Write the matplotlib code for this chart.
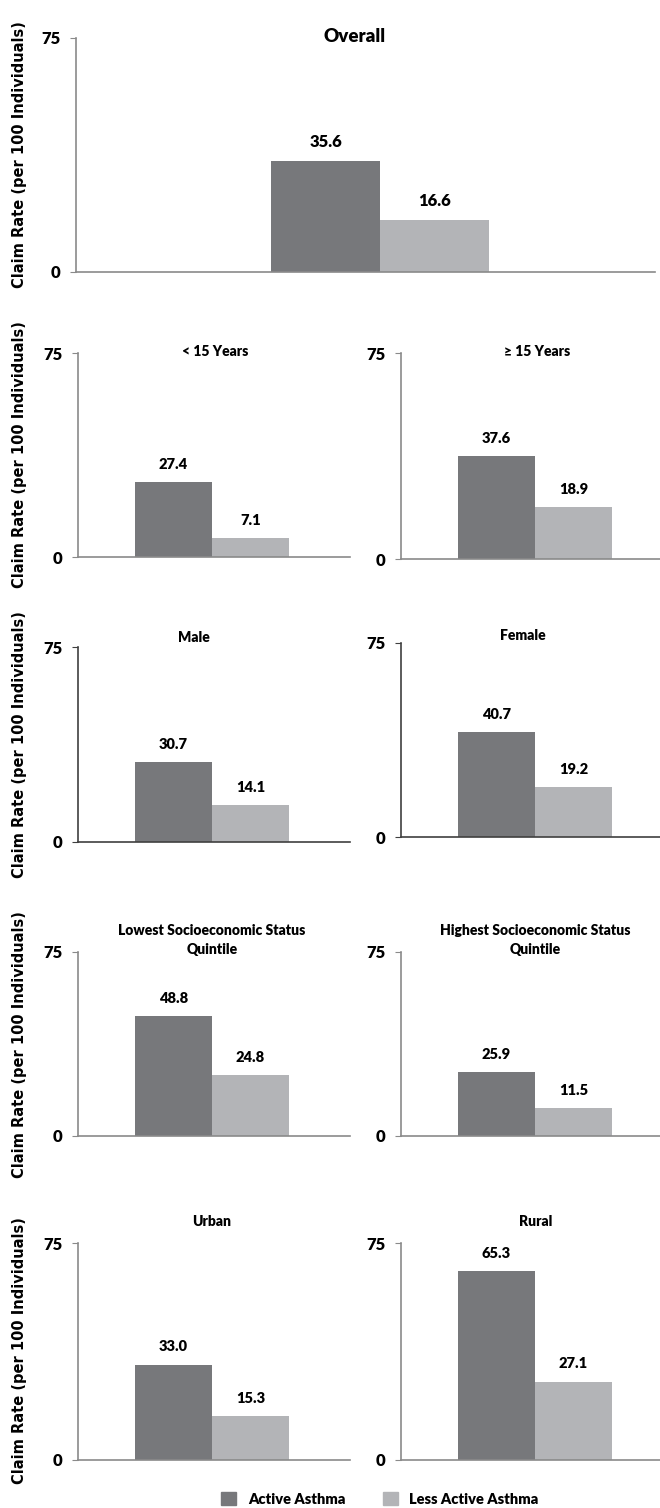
import matplotlib
matplotlib.use("Agg")
import matplotlib.pyplot as plt
from matplotlib.patches import Patch

plt.rcParams['font.family'] = ['Lato', 'DejaVu Sans']
plt.rcParams['font.weight'] = 'heavy'

# data
panel_titles = ["Overall", "< 15 Years", "\u2265 15 Years", "Male", "Female",
                "Lowest Socioeconomic Status\nQuintile",
                "Highest Socioeconomic Status\nQuintile", "Urban", "Rural"]
active = [35.6, 27.4, 37.6, 30.7, 40.7, 48.8, 25.9, 33.0, 65.3]
less_active = [16.6, 7.1, 18.9, 14.1, 19.2, 24.8, 11.5, 15.3, 27.1]
series_names = ["Active Asthma", "Less Active Asthma"]
y_ticks = [0, 75]
y_label = "Claim Rate (per 100 Individuals)"

DARK, LIGHT = "#77787b", "#b3b4b7"
W, H = 660, 1508

# layout in pixels: (left, top, right, bottom), group centre x, bar width, title x/y
boxes = [(76, 38, 655, 272),
         (78, 353, 350, 557), (401, 353, 660, 559),
         (78, 647, 350, 842), (401, 643, 660, 837),
         (78, 952, 350, 1136), (401, 952, 660, 1136),
         (78, 1243, 350, 1460), (401, 1243, 660, 1460)]
centres = [380, 212, 535, 212, 535, 212, 535, 212, 535]
widths = [109, 77, 77, 77, 77, 77, 77, 77, 77]
title_xy = [(355, 36), (215, 352), (537, 352), (194, 637), (523, 635),
            (212, 940), (535, 940), (212, 1222), (536, 1222)]
row_mid = [155, 455, 745, 1045, 1351]
spine_col = ["#8a8a8a", "#8a8a8a", "#8a8a8a", "#404040", "#404040",
             "#8a8a8a", "#8a8a8a", "#8a8a8a", "#8a8a8a"]

fig = plt.figure(figsize=(W / 100, H / 100), dpi=100)

for i, (l, t, r, b) in enumerate(boxes):
    ax = fig.add_axes([l / W, 1 - b / H, (r - l) / W, (b - t) / H])
    c, w = centres[i], widths[i]
    ax.bar([-0.5], [active[i]], width=1, color=DARK)
    ax.bar([0.5], [less_active[i]], width=1, color=LIGHT)
    big = i == 0
    fs = 12 if big else 10.5
    for x, v in ((-0.5, active[i]), (0.5, less_active[i])):
        ax.annotate(f"{v:.1f}", (x, v), xytext=(0, 8), textcoords="offset points",
                    ha="center", va="bottom", fontsize=fs, fontweight="heavy")
    ax.set_xlim((l - c) / w, (r - c) / w)
    ax.set_ylim(0, 75)
    ax.set_yticks(y_ticks)
    ax.set_xticks([])
    ax.tick_params(axis="y", length=4, color=spine_col[i], pad=7, labelsize=12)
    for s in ("top", "right"):
        ax.spines[s].set_visible(False)
    for s in ("left", "bottom"):
        ax.spines[s].set_color(spine_col[i])
        ax.spines[s].set_linewidth(1.2)
    tx, ty = title_xy[i]
    fig.text(tx / W, 1 - ty / H, panel_titles[i], ha="center", va="center",
             fontsize=13.5 if big else 10, fontweight="heavy", linespacing=1.5)

for y in row_mid:
    fig.text(20 / W, 1 - y / H, y_label, rotation=90, ha="center", va="center",
             fontsize=10.5, fontweight="bold", family="DejaVu Sans")

handles = [Patch(color=DARK), Patch(color=LIGHT)]
fig.legend(handles, series_names, ncol=2, loc="center",
           bbox_to_anchor=(380 / W, 1 - 1499 / H), frameon=False,
           handlelength=1.0, handleheight=1.0, columnspacing=2.6,
           prop={"family": "Lato", "weight": "heavy", "size": 10.5})

fig.savefig("out.png", dpi=100)
